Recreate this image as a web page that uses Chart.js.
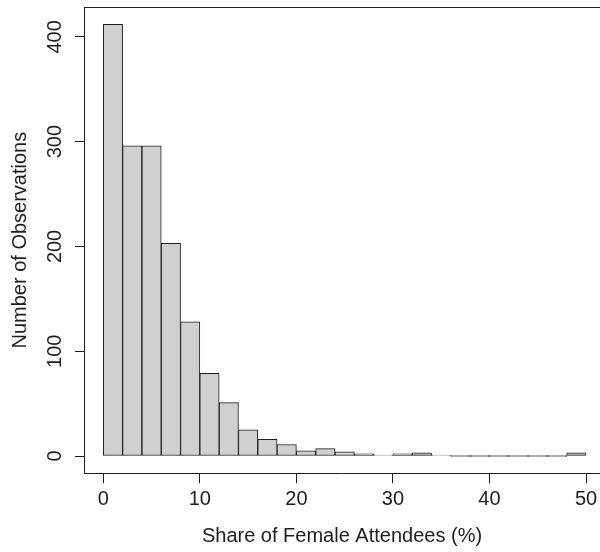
<!DOCTYPE html>
<html>
<head>
<meta charset="utf-8">
<script src="https://cdn.jsdelivr.net/npm/chart.js@4"></script>
<style>
  body { margin: 0; background: #fff; }
  canvas { display: block; }
</style>
</head>
<body>
<canvas id="histograma" width="600" height="552"></canvas>
<script>
// Datos del histograma: centro de cada intervalo (ancho 2) y número de observaciones
const binCenters = [1, 3, 5, 7, 9, 11, 13, 15, 17, 19, 21, 23, 25, 27, 29, 31, 33, 35, 37, 39, 41, 43, 45, 47, 49];
const counts = [412, 296, 296, 203, 128, 79, 51, 25, 16, 11, 5, 7, 4, 2, 1, 2, 3, 1, 0, 0, 0, 0, 0, 0, 3];
const xTicks = [0, 10, 20, 30, 40, 50];
const yTicks = [0, 100, 200, 300, 400];

const ink = '#1e1e1e';
const fuente = { family: "'Liberation Sans', Arial, sans-serif", size: 20 };

// Dibuja la línea superior del recuadro (la derecha queda fuera del lienzo)
const recuadro = {
  id: 'recuadro',
  afterDraw(chart) {
    const { ctx, chartArea } = chart;
    ctx.save();
    ctx.strokeStyle = ink;
    ctx.lineWidth = 1;
    ctx.beginPath();
    ctx.moveTo(chartArea.left, chartArea.top + 0.5);
    ctx.lineTo(chartArea.right, chartArea.top + 0.5);
    ctx.stroke();
    ctx.restore();
  }
};

const ctx = document.getElementById('histograma').getContext('2d');
new Chart(ctx, {
  type: 'bar',
  data: {
    datasets: [{
      data: binCenters.map((x, i) => ({ x: x, y: counts[i] })),
      backgroundColor: '#d0d0d0',
      borderColor: ink,
      borderWidth: 1,
      barPercentage: 1,
      categoryPercentage: 1,
      borderSkipped: false,
      minBarLength: 1
    }]
  },
  options: {
    responsive: false,
    animation: false,
    layout: { padding: { top: 7, right: 0, left: 0, bottom: 0 } },
    plugins: {
      legend: { display: false },
      tooltip: { enabled: false }
    },
    scales: {
      x: {
        type: 'linear',
        min: -2,
        max: 51.45,
        offset: false,
        afterFit: s => { s.height = 78.7; s.paddingLeft = 0; s.paddingRight = 0; },
        afterBuildTicks: s => { s.ticks = xTicks.map(v => ({ value: v })); },
        grid: { display: true, drawOnChartArea: false, tickLength: 10, color: ink, offset: false },
        border: { display: true, color: ink },
        ticks: { color: ink, font: fuente, padding: 4, maxRotation: 0, autoSkip: false },
        title: {
          display: true,
          text: 'Share of Female Attendees (%)',
          color: ink,
          font: fuente,
          padding: { top: 0, bottom: 4 }
        }
      },
      y: {
        min: -16.48,
        max: 428.48,
        afterFit: s => { s.width = 84; s.paddingTop = 0; s.paddingBottom = 0; },
        afterBuildTicks: s => { s.ticks = yTicks.map(v => ({ value: v })); },
        grid: { display: true, drawOnChartArea: false, tickLength: 9, color: ink },
        border: { display: true, color: ink },
        ticks: { color: ink, font: fuente, padding: 3, minRotation: 90, maxRotation: 90, crossAlign: 'center', autoSkip: false },
        title: {
          display: true,
          text: 'Number of Observations',
          color: ink,
          font: fuente,
          padding: { top: 8, bottom: 0 }
        }
      }
    }
  },
  plugins: [recuadro]
});
</script>
</body>
</html>
